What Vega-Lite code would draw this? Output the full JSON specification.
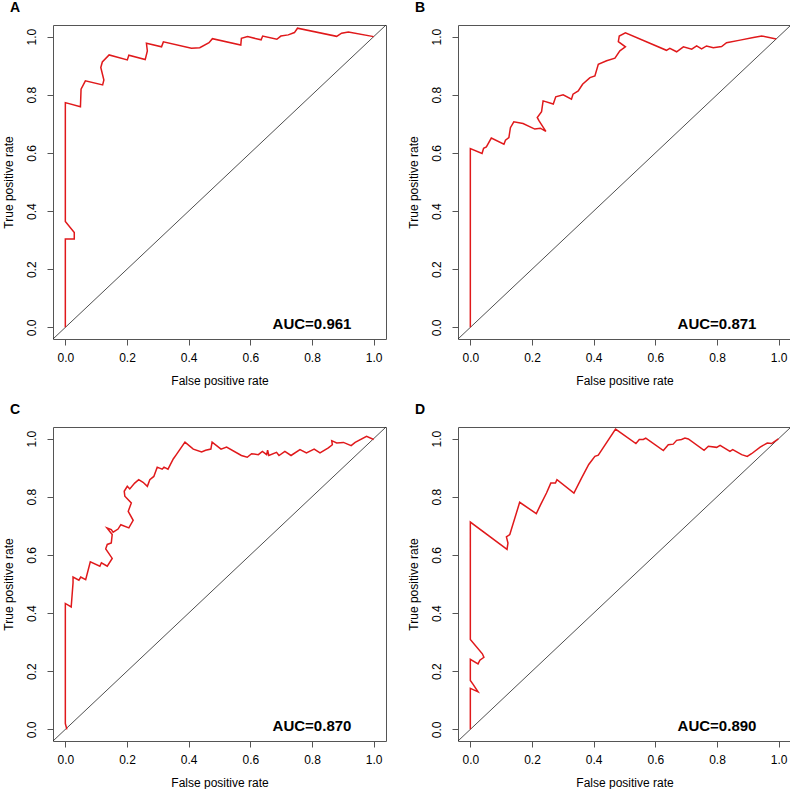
{
  "$schema": "https://vega.github.io/schema/vega-lite/v6.json",
  "padding": {"left": 1, "top": 0, "right": 0, "bottom": 0},
  "background": "white",
  "bounds": "flush",
  "columns": 2,
  "spacing": {"row": 88, "column": 72},
  "datasets": {
    "curves": [
      {"panel":"A","fpr":0,"tpr":0},{"panel":"A","fpr":0,"tpr":0.304},{"panel":"A","fpr":0.029,"tpr":0.304},{"panel":"A","fpr":0.029,"tpr":0.326},{"panel":"A","fpr":0,"tpr":0.364},{"panel":"A","fpr":0,"tpr":0.773},{"panel":"A","fpr":0.049,"tpr":0.759},{"panel":"A","fpr":0.051,"tpr":0.819},{"panel":"A","fpr":0.065,"tpr":0.848},{"panel":"A","fpr":0.121,"tpr":0.834},{"panel":"A","fpr":0.125,"tpr":0.851},{"panel":"A","fpr":0.115,"tpr":0.894},{"panel":"A","fpr":0.12,"tpr":0.913},{"panel":"A","fpr":0.142,"tpr":0.937},{"panel":"A","fpr":0.201,"tpr":0.92},{"panel":"A","fpr":0.206,"tpr":0.936},{"panel":"A","fpr":0.259,"tpr":0.921},{"panel":"A","fpr":0.266,"tpr":0.951},{"panel":"A","fpr":0.263,"tpr":0.977},{"panel":"A","fpr":0.312,"tpr":0.965},{"panel":"A","fpr":0.318,"tpr":0.982},{"panel":"A","fpr":0.409,"tpr":0.96},{"panel":"A","fpr":0.436,"tpr":0.962},{"panel":"A","fpr":0.466,"tpr":0.979},{"panel":"A","fpr":0.477,"tpr":0.993},{"panel":"A","fpr":0.569,"tpr":0.971},{"panel":"A","fpr":0.571,"tpr":0.994},{"panel":"A","fpr":0.591,"tpr":1.0},{"panel":"A","fpr":0.635,"tpr":0.989},{"panel":"A","fpr":0.64,"tpr":1.002},{"panel":"A","fpr":0.686,"tpr":0.991},{"panel":"A","fpr":0.699,"tpr":1.002},{"panel":"A","fpr":0.723,"tpr":1.006},{"panel":"A","fpr":0.743,"tpr":1.014},{"panel":"A","fpr":0.753,"tpr":1.029},{"panel":"A","fpr":0.88,"tpr":1.001},{"panel":"A","fpr":0.896,"tpr":1.012},{"panel":"A","fpr":0.918,"tpr":1.016},{"panel":"A","fpr":1.0,"tpr":1.0},
      {"panel":"B","fpr":0,"tpr":0},{"panel":"B","fpr":0,"tpr":0.615},{"panel":"B","fpr":0.038,"tpr":0.598},{"panel":"B","fpr":0.043,"tpr":0.616},{"panel":"B","fpr":0.052,"tpr":0.621},{"panel":"B","fpr":0.068,"tpr":0.651},{"panel":"B","fpr":0.109,"tpr":0.63},{"panel":"B","fpr":0.114,"tpr":0.644},{"panel":"B","fpr":0.125,"tpr":0.653},{"panel":"B","fpr":0.13,"tpr":0.687},{"panel":"B","fpr":0.141,"tpr":0.707},{"panel":"B","fpr":0.171,"tpr":0.701},{"panel":"B","fpr":0.209,"tpr":0.682},{"panel":"B","fpr":0.227,"tpr":0.685},{"panel":"B","fpr":0.245,"tpr":0.674},{"panel":"B","fpr":0.223,"tpr":0.71},{"panel":"B","fpr":0.217,"tpr":0.722},{"panel":"B","fpr":0.231,"tpr":0.742},{"panel":"B","fpr":0.236,"tpr":0.779},{"panel":"B","fpr":0.269,"tpr":0.768},{"panel":"B","fpr":0.277,"tpr":0.793},{"panel":"B","fpr":0.301,"tpr":0.8},{"panel":"B","fpr":0.328,"tpr":0.785},{"panel":"B","fpr":0.333,"tpr":0.802},{"panel":"B","fpr":0.35,"tpr":0.813},{"panel":"B","fpr":0.364,"tpr":0.836},{"panel":"B","fpr":0.388,"tpr":0.859},{"panel":"B","fpr":0.404,"tpr":0.865},{"panel":"B","fpr":0.415,"tpr":0.905},{"panel":"B","fpr":0.442,"tpr":0.917},{"panel":"B","fpr":0.469,"tpr":0.926},{"panel":"B","fpr":0.485,"tpr":0.951},{"panel":"B","fpr":0.503,"tpr":0.965},{"panel":"B","fpr":0.48,"tpr":0.983},{"panel":"B","fpr":0.483,"tpr":1.002},{"panel":"B","fpr":0.503,"tpr":1.013},{"panel":"B","fpr":0.636,"tpr":0.953},{"panel":"B","fpr":0.647,"tpr":0.96},{"panel":"B","fpr":0.669,"tpr":0.948},{"panel":"B","fpr":0.691,"tpr":0.965},{"panel":"B","fpr":0.718,"tpr":0.957},{"panel":"B","fpr":0.734,"tpr":0.968},{"panel":"B","fpr":0.75,"tpr":0.958},{"panel":"B","fpr":0.766,"tpr":0.968},{"panel":"B","fpr":0.788,"tpr":0.962},{"panel":"B","fpr":0.815,"tpr":0.966},{"panel":"B","fpr":0.831,"tpr":0.979},{"panel":"B","fpr":0.875,"tpr":0.988},{"panel":"B","fpr":0.918,"tpr":0.997},{"panel":"B","fpr":0.945,"tpr":1.002},{"panel":"B","fpr":0.992,"tpr":0.992},
      {"panel":"C","fpr":0.005,"tpr":0.0},{"panel":"C","fpr":0,"tpr":0.02},{"panel":"C","fpr":0,"tpr":0.433},{"panel":"C","fpr":0.019,"tpr":0.421},{"panel":"C","fpr":0.025,"tpr":0.504},{"panel":"C","fpr":0.025,"tpr":0.524},{"panel":"C","fpr":0.044,"tpr":0.513},{"panel":"C","fpr":0.05,"tpr":0.524},{"panel":"C","fpr":0.066,"tpr":0.515},{"panel":"C","fpr":0.081,"tpr":0.576},{"panel":"C","fpr":0.112,"tpr":0.561},{"panel":"C","fpr":0.117,"tpr":0.573},{"panel":"C","fpr":0.136,"tpr":0.561},{"panel":"C","fpr":0.152,"tpr":0.588},{"panel":"C","fpr":0.131,"tpr":0.621},{"panel":"C","fpr":0.136,"tpr":0.636},{"panel":"C","fpr":0.149,"tpr":0.641},{"panel":"C","fpr":0.152,"tpr":0.67},{"panel":"C","fpr":0.135,"tpr":0.693},{"panel":"C","fpr":0.149,"tpr":0.687},{"panel":"C","fpr":0.155,"tpr":0.678},{"panel":"C","fpr":0.171,"tpr":0.689},{"panel":"C","fpr":0.18,"tpr":0.704},{"panel":"C","fpr":0.206,"tpr":0.693},{"panel":"C","fpr":0.22,"tpr":0.719},{"panel":"C","fpr":0.204,"tpr":0.75},{"panel":"C","fpr":0.214,"tpr":0.779},{"panel":"C","fpr":0.193,"tpr":0.802},{"panel":"C","fpr":0.191,"tpr":0.819},{"panel":"C","fpr":0.201,"tpr":0.836},{"panel":"C","fpr":0.209,"tpr":0.827},{"panel":"C","fpr":0.225,"tpr":0.847},{"panel":"C","fpr":0.238,"tpr":0.859},{"panel":"C","fpr":0.252,"tpr":0.85},{"panel":"C","fpr":0.266,"tpr":0.836},{"panel":"C","fpr":0.274,"tpr":0.859},{"panel":"C","fpr":0.287,"tpr":0.87},{"panel":"C","fpr":0.298,"tpr":0.902},{"panel":"C","fpr":0.314,"tpr":0.895},{"panel":"C","fpr":0.32,"tpr":0.902},{"panel":"C","fpr":0.333,"tpr":0.895},{"panel":"C","fpr":0.35,"tpr":0.93},{"panel":"C","fpr":0.36,"tpr":0.945},{"panel":"C","fpr":0.388,"tpr":0.988},{"panel":"C","fpr":0.415,"tpr":0.964},{"panel":"C","fpr":0.442,"tpr":0.954},{"panel":"C","fpr":0.455,"tpr":0.96},{"panel":"C","fpr":0.472,"tpr":0.964},{"panel":"C","fpr":0.476,"tpr":0.988},{"panel":"C","fpr":0.505,"tpr":0.964},{"panel":"C","fpr":0.523,"tpr":0.971},{"panel":"C","fpr":0.571,"tpr":0.942},{"panel":"C","fpr":0.59,"tpr":0.936},{"panel":"C","fpr":0.604,"tpr":0.948},{"panel":"C","fpr":0.626,"tpr":0.945},{"panel":"C","fpr":0.639,"tpr":0.956},{"panel":"C","fpr":0.653,"tpr":0.945},{"panel":"C","fpr":0.656,"tpr":0.96},{"panel":"C","fpr":0.66,"tpr":0.942},{"panel":"C","fpr":0.685,"tpr":0.953},{"panel":"C","fpr":0.693,"tpr":0.942},{"panel":"C","fpr":0.712,"tpr":0.956},{"panel":"C","fpr":0.732,"tpr":0.942},{"panel":"C","fpr":0.761,"tpr":0.962},{"panel":"C","fpr":0.782,"tpr":0.951},{"panel":"C","fpr":0.807,"tpr":0.964},{"panel":"C","fpr":0.826,"tpr":0.951},{"panel":"C","fpr":0.853,"tpr":0.968},{"panel":"C","fpr":0.866,"tpr":0.979},{"panel":"C","fpr":0.864,"tpr":0.993},{"panel":"C","fpr":0.88,"tpr":0.985},{"panel":"C","fpr":0.902,"tpr":0.987},{"panel":"C","fpr":0.927,"tpr":0.976},{"panel":"C","fpr":0.94,"tpr":0.987},{"panel":"C","fpr":0.977,"tpr":1.008},{"panel":"C","fpr":1.0,"tpr":0.997},
      {"panel":"D","fpr":0,"tpr":0},{"panel":"D","fpr":0,"tpr":0.141},{"panel":"D","fpr":0.025,"tpr":0.129},{"panel":"D","fpr":0.009,"tpr":0.155},{"panel":"D","fpr":0,"tpr":0.168},{"panel":"D","fpr":0,"tpr":0.241},{"panel":"D","fpr":0.025,"tpr":0.225},{"panel":"D","fpr":0.031,"tpr":0.238},{"panel":"D","fpr":0.044,"tpr":0.248},{"panel":"D","fpr":0.039,"tpr":0.26},{"panel":"D","fpr":0,"tpr":0.309},{"panel":"D","fpr":0,"tpr":0.713},{"panel":"D","fpr":0.119,"tpr":0.619},{"panel":"D","fpr":0.122,"tpr":0.641},{"panel":"D","fpr":0.117,"tpr":0.662},{"panel":"D","fpr":0.128,"tpr":0.67},{"panel":"D","fpr":0.16,"tpr":0.781},{"panel":"D","fpr":0.214,"tpr":0.742},{"panel":"D","fpr":0.228,"tpr":0.773},{"panel":"D","fpr":0.247,"tpr":0.813},{"panel":"D","fpr":0.261,"tpr":0.847},{"panel":"D","fpr":0.276,"tpr":0.847},{"panel":"D","fpr":0.281,"tpr":0.859},{"panel":"D","fpr":0.336,"tpr":0.813},{"panel":"D","fpr":0.361,"tpr":0.865},{"panel":"D","fpr":0.384,"tpr":0.911},{"panel":"D","fpr":0.404,"tpr":0.939},{"panel":"D","fpr":0.415,"tpr":0.943},{"panel":"D","fpr":0.471,"tpr":1.033},{"panel":"D","fpr":0.537,"tpr":0.983},{"panel":"D","fpr":0.548,"tpr":0.997},{"panel":"D","fpr":0.561,"tpr":0.997},{"panel":"D","fpr":0.569,"tpr":1.002},{"panel":"D","fpr":0.626,"tpr":0.959},{"panel":"D","fpr":0.642,"tpr":0.979},{"panel":"D","fpr":0.658,"tpr":0.981},{"panel":"D","fpr":0.669,"tpr":0.994},{"panel":"D","fpr":0.685,"tpr":0.997},{"panel":"D","fpr":0.696,"tpr":1.002},{"panel":"D","fpr":0.707,"tpr":0.999},{"panel":"D","fpr":0.758,"tpr":0.96},{"panel":"D","fpr":0.772,"tpr":0.974},{"panel":"D","fpr":0.799,"tpr":0.97},{"panel":"D","fpr":0.81,"tpr":0.977},{"panel":"D","fpr":0.842,"tpr":0.956},{"panel":"D","fpr":0.851,"tpr":0.962},{"panel":"D","fpr":0.88,"tpr":0.945},{"panel":"D","fpr":0.898,"tpr":0.939},{"panel":"D","fpr":0.912,"tpr":0.948},{"panel":"D","fpr":0.94,"tpr":0.971},{"panel":"D","fpr":0.963,"tpr":0.985},{"panel":"D","fpr":0.977,"tpr":0.983},{"panel":"D","fpr":0.999,"tpr":0.999}
    ],
    "diag": [{"fpr": -0.04, "tpr": -0.04}, {"fpr": 1.04, "tpr": 1.04}],
    "auc": [
      {"panel":"A","label":"AUC=0.961","fpr":0.8,"tpr":-0.005},
      {"panel":"B","label":"AUC=0.871","fpr":0.8,"tpr":-0.005},
      {"panel":"C","label":"AUC=0.870","fpr":0.8,"tpr":-0.005},
      {"panel":"D","label":"AUC=0.890","fpr":0.8,"tpr":-0.005}
    ]
  },
  "concat": [
    {
      "title": "A", "width": 333, "height": 314,
      "layer": [
        {"data": {"name": "diag"}, "mark": {"type": "line", "color": "#222", "strokeWidth": 0.8},
         "encoding": {"x": {"field": "fpr", "type": "quantitative", "scale": {"domain": [-0.04, 1.04], "nice": false, "zero": false}, "axis": {"values": [0, 0.2, 0.4, 0.6, 0.8, 1], "format": ".1f", "title": "False positive rate"}},
                      "y": {"field": "tpr", "type": "quantitative", "scale": {"domain": [-0.04, 1.04], "nice": false, "zero": false}, "axis": {"values": [0, 0.2, 0.4, 0.6, 0.8, 1], "format": ".1f", "title": "True positive rate"}}}},
        {"data": {"name": "curves"}, "transform": [{"filter": "datum.panel === 'A'"}], "mark": {"type": "line", "color": "#e0191b", "strokeWidth": 1.5},
         "encoding": {"x": {"field": "fpr", "type": "quantitative"}, "y": {"field": "tpr", "type": "quantitative"}, "order": {"value": null}}},
        {"data": {"name": "auc"}, "transform": [{"filter": "datum.panel === 'A'"}], "mark": {"type": "text", "fontSize": 15, "fontWeight": "bold", "align": "center", "baseline": "alphabetic", "color": "#000", "font": "Liberation Sans"},
         "encoding": {"x": {"field": "fpr", "type": "quantitative"}, "y": {"field": "tpr", "type": "quantitative"}, "text": {"field": "label"}}}
      ]
    },
    {
      "title": "B", "width": 333, "height": 314,
      "layer": [
        {"data": {"name": "diag"}, "mark": {"type": "line", "color": "#222", "strokeWidth": 0.8},
         "encoding": {"x": {"field": "fpr", "type": "quantitative", "scale": {"domain": [-0.04, 1.04], "nice": false, "zero": false}, "axis": {"values": [0, 0.2, 0.4, 0.6, 0.8, 1], "format": ".1f", "title": "False positive rate"}},
                      "y": {"field": "tpr", "type": "quantitative", "scale": {"domain": [-0.04, 1.04], "nice": false, "zero": false}, "axis": {"values": [0, 0.2, 0.4, 0.6, 0.8, 1], "format": ".1f", "title": "True positive rate"}}}},
        {"data": {"name": "curves"}, "transform": [{"filter": "datum.panel === 'B'"}], "mark": {"type": "line", "color": "#e0191b", "strokeWidth": 1.5},
         "encoding": {"x": {"field": "fpr", "type": "quantitative"}, "y": {"field": "tpr", "type": "quantitative"}, "order": {"value": null}}},
        {"data": {"name": "auc"}, "transform": [{"filter": "datum.panel === 'B'"}], "mark": {"type": "text", "fontSize": 15, "fontWeight": "bold", "align": "center", "baseline": "alphabetic", "color": "#000", "font": "Liberation Sans"},
         "encoding": {"x": {"field": "fpr", "type": "quantitative"}, "y": {"field": "tpr", "type": "quantitative"}, "text": {"field": "label"}}}
      ]
    },
    {
      "title": "C", "width": 333, "height": 314,
      "layer": [
        {"data": {"name": "diag"}, "mark": {"type": "line", "color": "#222", "strokeWidth": 0.8},
         "encoding": {"x": {"field": "fpr", "type": "quantitative", "scale": {"domain": [-0.04, 1.04], "nice": false, "zero": false}, "axis": {"values": [0, 0.2, 0.4, 0.6, 0.8, 1], "format": ".1f", "title": "False positive rate"}},
                      "y": {"field": "tpr", "type": "quantitative", "scale": {"domain": [-0.04, 1.04], "nice": false, "zero": false}, "axis": {"values": [0, 0.2, 0.4, 0.6, 0.8, 1], "format": ".1f", "title": "True positive rate"}}}},
        {"data": {"name": "curves"}, "transform": [{"filter": "datum.panel === 'C'"}], "mark": {"type": "line", "color": "#e0191b", "strokeWidth": 1.5},
         "encoding": {"x": {"field": "fpr", "type": "quantitative"}, "y": {"field": "tpr", "type": "quantitative"}, "order": {"value": null}}},
        {"data": {"name": "auc"}, "transform": [{"filter": "datum.panel === 'C'"}], "mark": {"type": "text", "fontSize": 15, "fontWeight": "bold", "align": "center", "baseline": "alphabetic", "color": "#000", "font": "Liberation Sans"},
         "encoding": {"x": {"field": "fpr", "type": "quantitative"}, "y": {"field": "tpr", "type": "quantitative"}, "text": {"field": "label"}}}
      ]
    },
    {
      "title": "D", "width": 333, "height": 314,
      "layer": [
        {"data": {"name": "diag"}, "mark": {"type": "line", "color": "#222", "strokeWidth": 0.8},
         "encoding": {"x": {"field": "fpr", "type": "quantitative", "scale": {"domain": [-0.04, 1.04], "nice": false, "zero": false}, "axis": {"values": [0, 0.2, 0.4, 0.6, 0.8, 1], "format": ".1f", "title": "False positive rate"}},
                      "y": {"field": "tpr", "type": "quantitative", "scale": {"domain": [-0.04, 1.04], "nice": false, "zero": false}, "axis": {"values": [0, 0.2, 0.4, 0.6, 0.8, 1], "format": ".1f", "title": "True positive rate"}}}},
        {"data": {"name": "curves"}, "transform": [{"filter": "datum.panel === 'D'"}], "mark": {"type": "line", "color": "#e0191b", "strokeWidth": 1.5},
         "encoding": {"x": {"field": "fpr", "type": "quantitative"}, "y": {"field": "tpr", "type": "quantitative"}, "order": {"value": null}}},
        {"data": {"name": "auc"}, "transform": [{"filter": "datum.panel === 'D'"}], "mark": {"type": "text", "fontSize": 15, "fontWeight": "bold", "align": "center", "baseline": "alphabetic", "color": "#000", "font": "Liberation Sans"},
         "encoding": {"x": {"field": "fpr", "type": "quantitative"}, "y": {"field": "tpr", "type": "quantitative"}, "text": {"field": "label"}}}
      ]
    }
  ],
  "config": {
    "font": "Liberation Sans",
    "view": {"stroke": "#555", "strokeWidth": 1},
    "axis": {"grid": false, "domain": false, "tickColor": "#555", "tickSize": 6, "labelFontSize": 12, "labelColor": "#000", "titleFontSize": 12, "titleFontWeight": "normal", "titleColor": "#000", "labelPadding": 7, "labelFont": "Liberation Sans", "titleFont": "Liberation Sans", "labelFlush": false, "labelOverlap": false},
    "axisX": {"titlePadding": 12},
    "axisY": {"labelAngle": -90, "labelAlign": "center", "labelBaseline": "bottom", "labelPadding": 9, "titlePadding": 10},
    "title": {"anchor": "start", "frame": "group", "fontSize": 14, "fontWeight": "bold", "dx": -43, "offset": 8, "baseline": "alphabetic", "font": "Liberation Sans", "color": "#000"}
  }
}
